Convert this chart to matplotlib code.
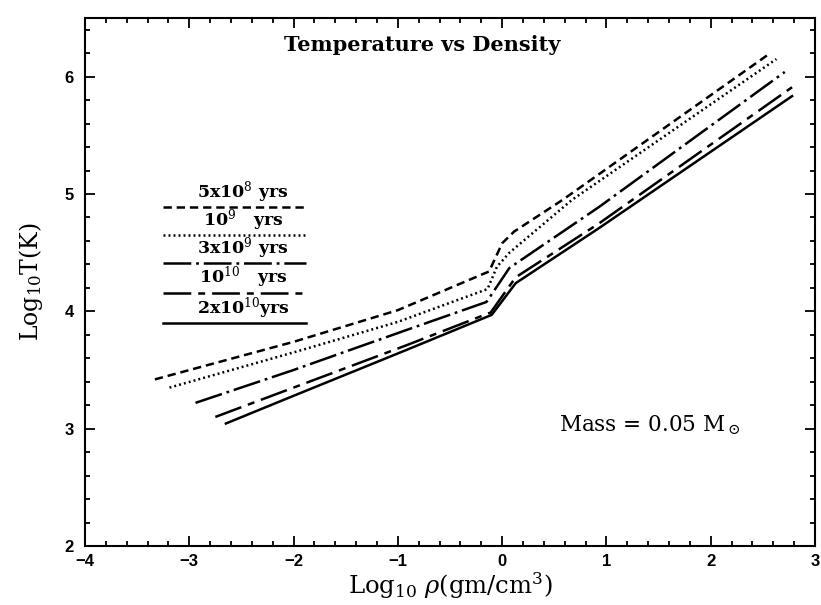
import matplotlib
matplotlib.use("Agg")
import matplotlib.pyplot as plt
from matplotlib.ticker import MultipleLocator

plt.rcParams['lines.scale_dashes'] = False
plt.rcParams['mathtext.fontset'] = 'dejavuserif'

# ---- data ----
ages = ["5x10$^8$ yrs", "10$^9$   yrs", "3x10$^9$ yrs", "10$^{10}$   yrs", "2x10$^{10}$yrs"]

rho_5e8 = [-3.33, -2.0, -1.0, -0.125, 0.0, 0.115, 0.58, 2.57]
T_5e8 = [3.42, 3.74, 4.01, 4.34, 4.58, 4.68, 4.95, 6.20]

rho_1e9 = [-3.19, -2.0, -1.0, -0.14, -0.05, 0.07, 0.67, 2.63]
T_1e9 = [3.35, 3.65, 3.91, 4.19, 4.38, 4.50, 4.95, 6.15]

rho_3e9 = [-2.94, -2.0, -0.92, -0.15, 0.07, 0.93, 2.71]
T_3e9 = [3.22, 3.50, 3.84, 4.08, 4.37, 4.89, 6.04]

rho_1e10 = [-2.75, -2.0, -0.92, -0.11, 0.13, 0.93, 2.78]
T_1e10 = [3.10, 3.35, 3.71, 3.99, 4.29, 4.75, 5.91]

rho_2e10 = [-2.66, -2.0, -0.92, -0.10, 0.13, 0.93, 2.79]
T_2e10 = [3.04, 3.28, 3.67, 3.97, 4.24, 4.71, 5.84]

xs = [rho_5e8, rho_1e9, rho_3e9, rho_1e10, rho_2e10]
ys = [T_5e8, T_1e9, T_3e9, T_1e10, T_2e10]

dashes = [(6, 3.5), (1.4, 2.2), (20, 3.5, 2, 3.5), (20, 5, 5, 5), None]

fig = plt.figure(figsize=(8.21, 6.05), dpi=100)
ax = fig.add_axes([85/821, 1-546/605, (815-85)/821, (546-18)/605])

for x, y, d in zip(xs, ys, dashes):
    if d is None:
        ax.plot(x, y, color='black', lw=1.8, solid_capstyle='butt')
    else:
        ax.plot(x, y, color='black', lw=1.8, dashes=d, dash_capstyle='butt')

# legend drawn inside the axes as in the original
leg_x0, leg_x1 = -3.25, -1.88
leg_y = [4.89, 4.65, 4.41, 4.16, 3.90]
for lab, yy, d in zip(ages, leg_y, dashes):
    if d is None:
        ax.plot([leg_x0, leg_x1], [yy, yy], color='black', lw=1.8)
    else:
        ax.plot([leg_x0, leg_x1], [yy, yy], color='black', lw=1.8, dashes=d)
    ax.text((leg_x0 + leg_x1) / 2 + 0.08, yy + 0.02, lab, ha='center', va='bottom',
            fontsize=12.5, fontweight='bold', family='DejaVu Serif')

ax.text(-0.77, 6.27, "Temperature vs Density", ha='center', va='center',
        fontsize=15, fontweight='bold', family='DejaVu Serif')
ax.text(1.41, 3.03, r"Mass = 0.05 M$_\odot$", ha='center', va='center',
        fontsize=15.5, family='DejaVu Serif')

ax.set_xlim(-4, 3)
ax.set_ylim(2, 6.5)
ax.xaxis.set_major_locator(MultipleLocator(1))
ax.xaxis.set_minor_locator(MultipleLocator(0.2))
ax.yaxis.set_major_locator(MultipleLocator(1))
ax.yaxis.set_minor_locator(MultipleLocator(0.2))
ax.tick_params(which='both', direction='in', top=True, right=True, width=1.3)
ax.tick_params(which='major', length=7)
ax.tick_params(which='minor', length=3.5)
for lbl in ax.get_xticklabels() + ax.get_yticklabels():
    lbl.set_fontweight('bold')
    lbl.set_family('Liberation Sans')
    lbl.set_fontsize(12)
ax.tick_params(axis='x', pad=6)
ax.tick_params(axis='y', pad=8)
for s in ax.spines.values():
    s.set_linewidth(1.5)

ax.set_xlabel(r"Log$_{10}$ $\rho$(gm/cm$^3$)", fontsize=17.5, family='DejaVu Serif', labelpad=1)
ax.set_ylabel(r"Log$_{10}$T(K)", fontsize=17, family='DejaVu Serif', labelpad=14)

fig.savefig("out.png", dpi=100)
